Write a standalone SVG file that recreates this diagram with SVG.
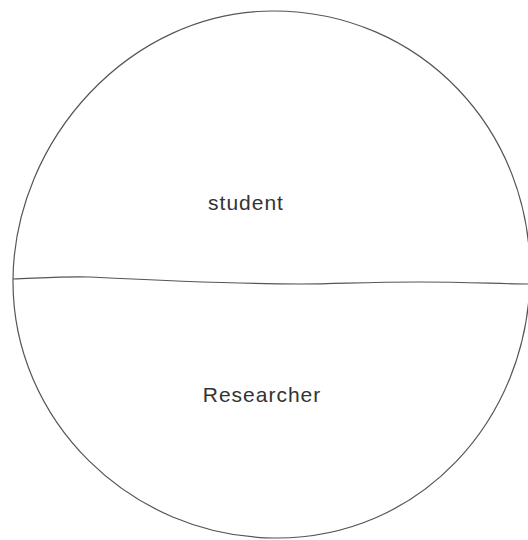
<svg xmlns="http://www.w3.org/2000/svg" width="528" height="540" viewBox="0 0 528 540">
<style>
.ln{fill:none;stroke:#555;stroke-width:1.2}
.t{font-family:"Liberation Sans",Arial,sans-serif;font-size:21px;fill:#333;text-anchor:middle;letter-spacing:1px}
</style>
<rect width="528" height="540" fill="#fff"/>
<g id="circle">
<path class="ln" d="M273,11 C420,11 533,130 530,278 C528,420 420,539 275,538 C130,537 12,420 13,280 C14,140 130,11 273,11 Z"/>
</g>
<g id="connectors">
<path class="ln" d="M13,279 C40,278 70,276 90,277 C150,280 250,284 300,284 C340,284 360,282 420,282 C470,282 500,284 528,284"/>
</g>
<g id="student"><text class="t" x="246" y="210">student</text></g>
<g id="researcher"><text class="t" x="262" y="402">Researcher</text></g>
</svg>
